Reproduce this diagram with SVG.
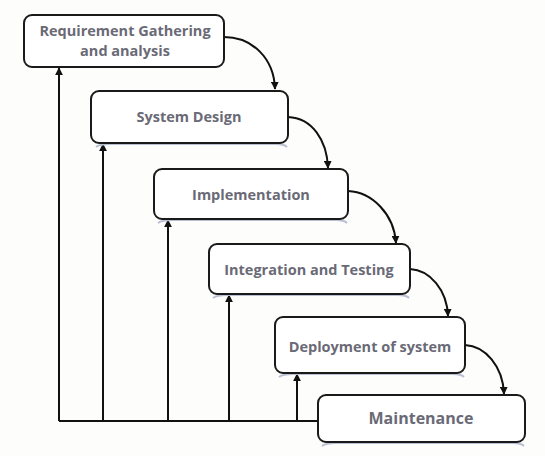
<svg xmlns="http://www.w3.org/2000/svg" width="545" height="456" viewBox="0 0 545 456">
<defs>
<marker id="ah" viewBox="0 0 10 10" refX="9" refY="5" markerWidth="8" markerHeight="8" markerUnits="userSpaceOnUse" orient="auto">
<path d="M0,0 L10,5 L0,10 Z" fill="#111"/>
</marker>
<style>
.box{fill:#fff;stroke:#1a1a1a;stroke-width:2}
.sh{fill:none;stroke:#b8bfd2;stroke-width:2}
.lbl{font-family:"Open Sans","Liberation Sans",sans-serif;font-weight:bold;font-size:14.5px;fill:#6a6a76;text-anchor:middle}
.c{fill:none;stroke:#111;stroke-width:2}
</style>
</defs>
<rect width="545" height="456" fill="#fdfdfb"/>
<g id="connectors">
<path class="c" d="M59,421 H318"/>
<path class="c" d="M59,421 V68" marker-end="url(#ah)"/>
<path class="c" d="M103,421 V144" marker-end="url(#ah)"/>
<path class="c" d="M168,421 V220" marker-end="url(#ah)"/>
<path class="c" d="M229,421 V295" marker-end="url(#ah)"/>
<path class="c" d="M297,421 V374" marker-end="url(#ah)"/>
<path class="c" d="M224,37 C252,37 274,58 275,89" marker-end="url(#ah)"/>
<path class="c" d="M288,117 C312,118 327,140 328,168" marker-end="url(#ah)"/>
<path class="c" d="M348,191 C372,192 394,214 396,243" marker-end="url(#ah)"/>
<path class="c" d="M410,269 C430,270 447,290 448,316" marker-end="url(#ah)"/>
<path class="c" d="M465,345 C485,346 503,366 504,394" marker-end="url(#ah)"/>
</g>
<g id="n1">
<rect class="box" x="24" y="15" width="200" height="52" rx="8"/>
<text class="lbl" x="125" y="36">Requirement Gathering</text>
<text class="lbl" x="125" y="56">and analysis</text>
</g>
<g id="n2">
<path class="sh" d="M96,147 Q100,144 110,144 H276 Q284,144 287,147"/>
<rect class="box" x="91" y="91" width="197" height="52" rx="8"/>
<text class="lbl" x="189" y="122">System Design</text>
</g>
<g id="n3">
<path class="sh" d="M158,223 Q162,220 172,220 H336 Q344,220 347,223"/>
<rect class="box" x="154" y="169" width="194" height="50" rx="8"/>
<text class="lbl" x="251" y="200">Implementation</text>
</g>
<g id="n4">
<path class="sh" d="M213,298 Q217,295 227,295 H398 Q406,295 409,298"/>
<rect class="box" x="209" y="244" width="201" height="50" rx="8"/>
<text class="lbl" x="309" y="275">Integration and Testing</text>
</g>
<g id="n5">
<path class="sh" d="M279,377 Q283,374 293,374 H453 Q461,374 464,377"/>
<rect class="box" x="275" y="317" width="190" height="56" rx="8"/>
<text class="lbl" x="370" y="352">Deployment of system</text>
</g>
<g id="n6">
<path class="sh" d="M322,446 Q326,443 336,443 H513 Q521,443 524,446"/>
<rect class="box" x="318" y="395" width="207" height="47" rx="8"/>
<text class="lbl" x="421" y="424" style="font-size:16px">Maintenance</text>
</g>
</svg>
